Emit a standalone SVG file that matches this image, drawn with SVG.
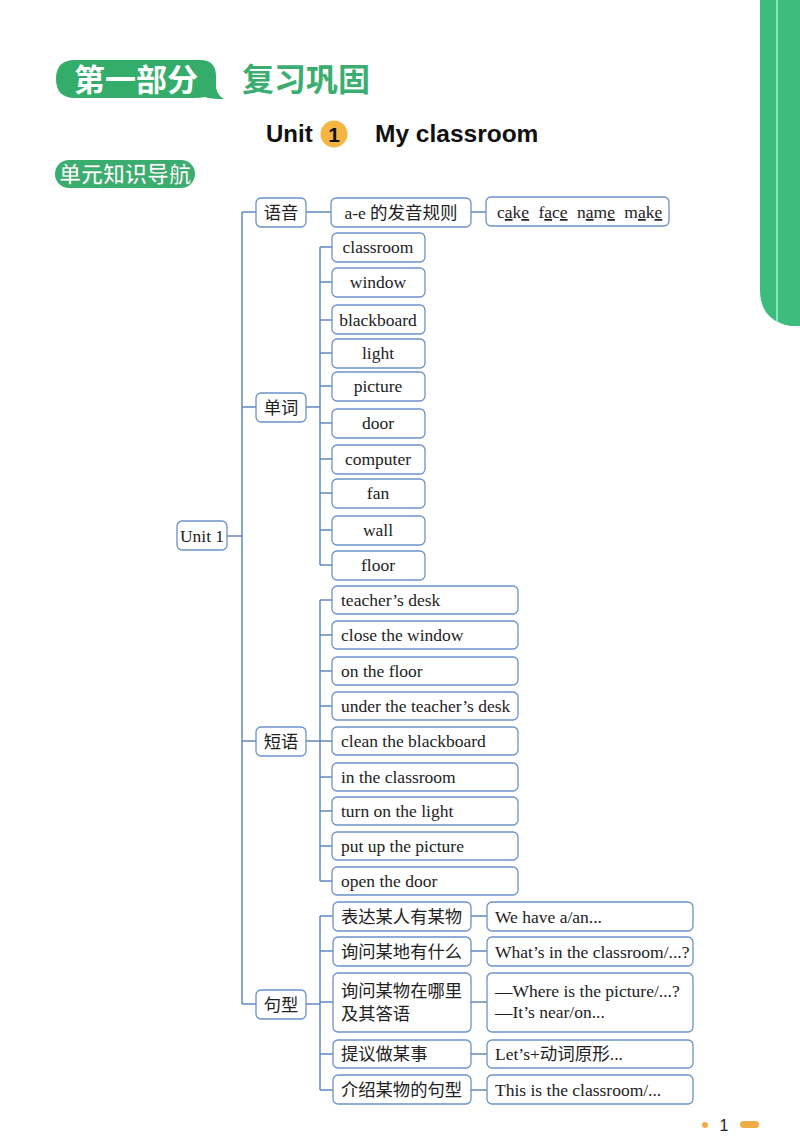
<svg xmlns="http://www.w3.org/2000/svg" width="800" height="1143" viewBox="0 0 800 1143">
<style>
.box{fill:#fff;stroke:#6b93c9;stroke-width:1.3}
.ln{fill:none;stroke:#5f89c2;stroke-width:1.5}
.t{font-family:"Liberation Serif","Noto Sans CJK SC",serif;font-size:17.5px;fill:#222}
.z{font-size:17.3px}
.c{text-anchor:middle}
</style>
<rect width="800" height="1143" fill="#fff"/>
<!-- right tab -->
<path d="M760 0 H800 V326 H790 Q760 320 760 290 Z" fill="#3dbd7d"/>
<line x1="777" y1="0" x2="777" y2="322" stroke="#9af5d0" stroke-width="1.5"/>
<!-- header -->
<g id="header">
<path d="M75 60 H200 Q216 60 216 76 V88 Q218 96 224 99 Q210 99 205 97 Q200 98 195 98 H75 Q56 98 56 79 Q56 60 75 60 Z" fill="#34ad6b"/>
<text x="136" y="91" text-anchor="middle" font-family="Noto Sans CJK SC,sans-serif" font-size="31" font-weight="bold" fill="#fff">第一部分</text>
<text x="242" y="91" font-family="Noto Sans CJK SC,sans-serif" font-size="32" font-weight="bold" fill="#3aae6f">复习巩固</text>
<text x="266" y="142" font-family="Liberation Sans,sans-serif" font-size="24" font-weight="bold" fill="#111">Unit</text>
<circle cx="334" cy="134" r="13.5" fill="#f4b643"/>
<text x="334" y="142" text-anchor="middle" font-family="Liberation Sans,sans-serif" font-size="21" font-weight="bold" fill="#111">1</text>
<text x="375" y="142" font-family="Liberation Sans,sans-serif" font-size="24.5" font-weight="bold" fill="#111">My classroom</text>
<rect x="55" y="160" width="140" height="28" rx="14" fill="#3aae6f"/>
<text x="125" y="182" text-anchor="middle" font-family="Noto Sans CJK SC,sans-serif" font-size="22" font-weight="bold" fill="#fff" stroke="#2d9a5c" stroke-width="0.6">单元知识导航</text>
</g>
<!-- connectors -->
<g id="connectors" class="ln">
<path d="M227 536 H242 M242 212 V1004 M242 212 H256 M242 407 H256 M242 741 H256 M242 1004 H256"/>
<path d="M306 212 H331 M471 212 H486"/>
<path d="M306 407 H320 M320 247 V565 M320 247 H332 M320 282 H332 M320 320 H332 M320 353 H332 M320 386 H332 M320 423 H332 M320 459 H332 M320 493 H332 M320 530 H332 M320 565 H332"/>
<path d="M306 741 H320 M320 600 V881 M320 600 H332 M320 635 H332 M320 671 H332 M320 706 H332 M320 741 H332 M320 777 H332 M320 811 H332 M320 846 H332 M320 881 H332"/>
<path d="M306 1004 H320 M320 916 V1090 M320 916 H333 M320 951 H333 M320 1002 H333 M320 1054 H333 M320 1090 H333"/>
<path d="M471 916 H487 M471 951 H487 M471 1002 H487 M471 1054 H487 M471 1090 H487"/>
</g>
<!-- root -->
<g id="unit1"><rect class="box" x="177" y="521" width="50" height="29" rx="5"/><text class="t c" x="202" y="542">Unit 1</text></g>
<!-- level 1 -->
<g id="yuyin"><rect class="box" x="256" y="198" width="50" height="29" rx="5"/><text class="t c z" x="281" y="219">语音</text></g>
<g id="danci"><rect class="box" x="256" y="393" width="50" height="29" rx="5"/><text class="t c z" x="281" y="414">单词</text></g>
<g id="duanyu"><rect class="box" x="256" y="727" width="50" height="29" rx="5"/><text class="t c z" x="281" y="748">短语</text></g>
<g id="juxing"><rect class="box" x="256" y="990" width="50" height="29" rx="5"/><text class="t c z" x="281" y="1011">句型</text></g>
<!-- 语音 -->
<g id="ae"><rect class="box" x="331" y="198" width="140" height="29" rx="5"/><text class="t c" x="401" y="219">a-e 的发音规则</text></g>
<g id="cake"><rect class="box" x="486" y="197" width="183" height="29" rx="5"/>
<text class="t" x="497" y="218" word-spacing="5">c<tspan text-decoration="underline">a</tspan>k<tspan text-decoration="underline">e</tspan> f<tspan text-decoration="underline">a</tspan>c<tspan text-decoration="underline">e</tspan> n<tspan text-decoration="underline">a</tspan>m<tspan text-decoration="underline">e</tspan> m<tspan text-decoration="underline">a</tspan>k<tspan text-decoration="underline">e</tspan></text></g>
<!-- words -->
<g id="w1"><rect class="box" x="332" y="233" width="93" height="29" rx="5"/><text class="t c" x="378" y="253">classroom</text></g>
<g id="w2"><rect class="box" x="332" y="268" width="93" height="29" rx="5"/><text class="t c" x="378" y="288">window</text></g>
<g id="w3"><rect class="box" x="332" y="305" width="93" height="29" rx="5"/><text class="t c" x="378" y="326">blackboard</text></g>
<g id="w4"><rect class="box" x="332" y="339" width="93" height="29" rx="5"/><text class="t c" x="378" y="359">light</text></g>
<g id="w5"><rect class="box" x="332" y="372" width="93" height="29" rx="5"/><text class="t c" x="378" y="392">picture</text></g>
<g id="w6"><rect class="box" x="332" y="409" width="93" height="29" rx="5"/><text class="t c" x="378" y="429">door</text></g>
<g id="w7"><rect class="box" x="332" y="445" width="93" height="29" rx="5"/><text class="t c" x="378" y="465">computer</text></g>
<g id="w8"><rect class="box" x="332" y="479" width="93" height="29" rx="5"/><text class="t c" x="378" y="499">fan</text></g>
<g id="w9"><rect class="box" x="332" y="516" width="93" height="29" rx="5"/><text class="t c" x="378" y="536">wall</text></g>
<g id="w10"><rect class="box" x="332" y="551" width="93" height="29" rx="5"/><text class="t c" x="378" y="571">floor</text></g>
<!-- phrases -->
<g id="p1"><rect class="box" x="332" y="586" width="186" height="28" rx="5"/><text class="t" x="341" y="606">teacher’s desk</text></g>
<g id="p2"><rect class="box" x="332" y="621" width="186" height="28" rx="5"/><text class="t" x="341" y="641">close the window</text></g>
<g id="p3"><rect class="box" x="332" y="657" width="186" height="28" rx="5"/><text class="t" x="341" y="677">on the floor</text></g>
<g id="p4"><rect class="box" x="332" y="692" width="186" height="28" rx="5"/><text class="t" x="341" y="712">under the teacher’s desk</text></g>
<g id="p5"><rect class="box" x="332" y="727" width="186" height="28" rx="5"/><text class="t" x="341" y="747">clean the blackboard</text></g>
<g id="p6"><rect class="box" x="332" y="763" width="186" height="28" rx="5"/><text class="t" x="341" y="783">in the classroom</text></g>
<g id="p7"><rect class="box" x="332" y="797" width="186" height="28" rx="5"/><text class="t" x="341" y="817">turn on the light</text></g>
<g id="p8"><rect class="box" x="332" y="832" width="186" height="28" rx="5"/><text class="t" x="341" y="852">put up the picture</text></g>
<g id="p9"><rect class="box" x="332" y="867" width="186" height="28" rx="5"/><text class="t" x="341" y="887">open the door</text></g>
<!-- sentences -->
<g id="s1"><rect class="box" x="333" y="902" width="138" height="29" rx="5"/><text class="t z" x="341" y="923">表达某人有某物</text></g>
<g id="s1a"><rect class="box" x="487" y="902" width="206" height="29" rx="5"/><text class="t" x="495" y="923">We have a/an...</text></g>
<g id="s2"><rect class="box" x="333" y="937" width="138" height="29" rx="5"/><text class="t z" x="341" y="958">询问某地有什么</text></g>
<g id="s2a"><rect class="box" x="487" y="937" width="206" height="29" rx="5"/><text class="t" x="495" y="958">What’s in the classroom/...?</text></g>
<g id="s3"><rect class="box" x="333" y="973" width="138" height="59" rx="5"/><text class="t z" x="341" y="997">询问某物在哪里</text><text class="t z" x="341" y="1020">及其答语</text></g>
<g id="s3a"><rect class="box" x="487" y="973" width="206" height="59" rx="5"/><text class="t" x="495" y="997">—Where is the picture/...?</text><text class="t" x="495" y="1018">—It’s near/on...</text></g>
<g id="s4"><rect class="box" x="333" y="1040" width="138" height="28" rx="5"/><text class="t z" x="341" y="1060">提议做某事</text></g>
<g id="s4a"><rect class="box" x="487" y="1040" width="206" height="28" rx="5"/><text class="t" x="495" y="1060">Let’s+动词原形...</text></g>
<g id="s5"><rect class="box" x="333" y="1075" width="138" height="29" rx="5"/><text class="t z" x="341" y="1096">介绍某物的句型</text></g>
<g id="s5a"><rect class="box" x="487" y="1075" width="206" height="29" rx="5"/><text class="t" x="495" y="1096">This is the classroom/...</text></g>
<!-- page number -->
<g id="pagenum">
<circle cx="705" cy="1125" r="3" fill="#f0ad45"/>
<text x="724" y="1131" text-anchor="middle" font-family="Liberation Sans,sans-serif" font-size="16" fill="#222">1</text>
<rect x="740" y="1121" width="19" height="7" rx="3.5" fill="#f0ad45"/>
</g>
</svg>
